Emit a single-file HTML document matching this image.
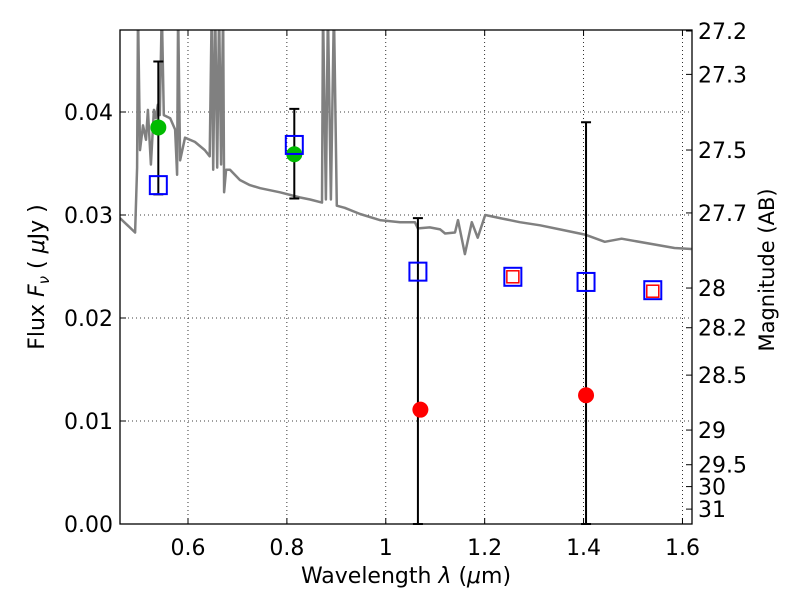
<!DOCTYPE html>
<html><head><meta charset="utf-8"><style>
body{margin:0;background:#fff}
svg{font-family:"DejaVu Sans","Liberation Sans",sans-serif}
</style></head><body>
<svg id="chart" width="800" height="600" xmlns="http://www.w3.org/2000/svg">
<defs><clipPath id="clip"><rect x="120" y="30" width="572" height="494"/></clipPath></defs>
<g id="grid"></g>
<g id="spec" clip-path="url(#clip)"></g>
<g id="marks"></g>
<rect x="120" y="30" width="572" height="494" fill="none" stroke="#000" stroke-width="1.3"/>
<g id="axes"></g>
<text x="406" y="583" font-size="22" text-anchor="middle">Wavelength  <tspan font-style="italic">λ</tspan> (<tspan font-style="italic">μ</tspan>m)</text>
<text transform="translate(44,277) rotate(-90)" font-size="22" text-anchor="middle">Flux  <tspan font-style="italic">F</tspan><tspan font-style="italic" font-size="15" dy="5">ν</tspan><tspan dy="-5">  (  </tspan><tspan font-style="italic">μ</tspan>Jy )</text>
<text transform="translate(774,270) rotate(-90)" font-size="21" text-anchor="middle">Magnitude (AB)</text>
</svg>
<script>
const xTicks=[0.6,0.8,1.0,1.2,1.4,1.6];
const xTickLabels=["0.6","0.8","1","1.2","1.4","1.6"];
const yTicks=[0,0.01,0.02,0.03,0.04];
const yTickLabels=["0.00","0.01","0.02","0.03","0.04"];
const magTicks=[27.2,27.3,27.5,27.7,28,28.2,28.5,29,29.5,30,31];
const magLabels=["27.2","27.3","27.5","27.7","28","28.2","28.5","29","29.5","30","31"];
const specWave=[0.4625,0.493,0.497,0.499,0.503,0.509,0.515,0.519,0.525,0.531,0.535,0.539,0.543,0.547,0.551,0.564,0.574,0.578,0.580,0.584,0.594,0.614,0.634,0.644,0.648,0.651,0.655,0.659,0.663,0.667,0.671,0.673,0.677,0.685,0.705,0.725,0.746,0.786,0.827,0.847,0.871,0.873,0.879,0.883,0.889,0.895,0.901,0.917,0.948,0.988,1.029,1.059,1.065,1.089,1.110,1.120,1.140,1.146,1.160,1.174,1.186,1.201,1.231,1.271,1.312,1.352,1.403,1.443,1.477,1.584,1.618];
const specFlux=[0.0297,0.0283,0.0346,0.05,0.0363,0.0387,0.0373,0.0402,0.0349,0.0402,0.0394,0.0407,0.0397,0.05,0.0397,0.0394,0.0383,0.0339,0.05,0.0353,0.0375,0.0371,0.0363,0.0357,0.05,0.0344,0.05,0.0346,0.05,0.0349,0.05,0.0322,0.0344,0.0344,0.0334,0.0329,0.0326,0.0322,0.0317,0.0315,0.0312,0.05,0.0315,0.05,0.0315,0.05,0.0309,0.0307,0.0301,0.0295,0.0293,0.0293,0.0287,0.0288,0.0286,0.0282,0.0283,0.0295,0.0262,0.0293,0.0278,0.0300,0.0297,0.0293,0.0290,0.0286,0.0281,0.0274,0.0277,0.0268,0.0267];
const greenX=[0.54,0.815];
const greenY=[0.0385,0.0359];
const errX=[0.54,0.815,1.065,1.405];
const errLo=[0.0320,0.0316,0.0,0.0];
const errHi=[0.0449,0.0403,0.0297,0.0390];
const blueX=[0.54,0.815,1.065,1.257,1.405,1.54];
const blueY=[0.0329,0.0368,0.0245,0.0240,0.0235,0.0227];
const redSqX=[1.257,1.54];
const redSqY=[0.0240,0.0226];
const redX=[1.07,1.405];
const redY=[0.0111,0.0125];

const X0=120,X1=692,Y0=524,Y1=30,xmin=0.4625,xmax=1.6193,ymin=0,ymax=0.04796;
const sx=v=>X0+(v-xmin)/(xmax-xmin)*(X1-X0);
const sy=v=>Y0-(v-ymin)/(ymax-ymin)*(Y0-Y1);
const NS="http://www.w3.org/2000/svg";
function mk(tag,attrs,parent){const e=document.createElementNS(NS,tag);for(const k in attrs)e.setAttribute(k,attrs[k]);document.getElementById(parent).appendChild(e);return e;}
xTicks.forEach((t,i)=>{const x=sx(t);
 let g=mk('line',{x1:x,x2:x,y1:Y1,y2:Y0,stroke:'#000','stroke-width':0.8,'stroke-dasharray':'1,3'},'grid');
 
 
 let a=mk('line',{x1:x,x2:x,y1:Y0,y2:Y0-6,stroke:'#000'},'axes');
 let b=mk('line',{x1:x,x2:x,y1:Y1,y2:Y1+6,stroke:'#000'},'axes');
 let l=mk('text',{x:x,y:555,'font-size':22,'text-anchor':'middle'},'axes');l.textContent=xTickLabels[i];
 
 });
yTicks.forEach((t,i)=>{const y=sy(t);
 if(t>0){let g=mk('line',{x1:X0,x2:X1,y1:y,y2:y,stroke:'#000','stroke-width':0.8,'stroke-dasharray':'1,3'},'grid');
 
 }
 let a=mk('line',{x1:X0,x2:X0+6,y1:y,y2:y,stroke:'#000'},'axes');
 let l=mk('text',{x:113,y:y+8,'font-size':22,'text-anchor':'end'},'axes');l.textContent=yTickLabels[i];
 
 });
magTicks.forEach((m,i)=>{const f=Math.pow(10,(23.9-m)/2.5);const y=sy(f);
 let a=mk('line',{x1:X1-6,x2:X1,y1:y,y2:y,stroke:'#000'},'axes');
 let l=mk('text',{x:698,y:y+8,'font-size':22},'axes');l.textContent=magLabels[i];
 
 });
let d=specWave.map((w,i)=>(i?'L':'M')+sx(w).toFixed(1)+','+sy(specFlux[i]).toFixed(1)).join(' ');
let sp=mk('path',{d:d,fill:'none',stroke:'#808080','stroke-width':2.5,'stroke-linejoin':'round'},'spec');


errX.forEach((x,i)=>{const px=sx(x),a=sy(errLo[i]),b=sy(errHi[i]);
 let e=mk('path',{d:`M${px},${a}L${px},${b}M${px-5},${a}L${px+5},${a}M${px-5},${b}L${px+5},${b}`,stroke:'#000','stroke-width':2,fill:'none'},'marks');
 
 });
greenX.forEach((x,i)=>{let c=mk('circle',{cx:sx(x),cy:sy(greenY[i]),r:8,fill:'#00bb00'},'marks');
 
 });
blueX.forEach((x,i)=>{let r=mk('rect',{x:sx(x)-8.5,y:sy(blueY[i])-9,width:17,height:18,fill:'none',stroke:'#0000ff','stroke-width':2},'marks');
 
 });
redSqX.forEach((x,i)=>{let r=mk('rect',{x:sx(x)-6,y:sy(redSqY[i])-6,width:12,height:12,fill:'none',stroke:'#ff0000','stroke-width':1.5},'marks');
 
 });
redX.forEach((x,i)=>{let c=mk('circle',{cx:sx(x),cy:sy(redY[i]),r:8,fill:'#ff0000'},'marks');
 
 });
</script>
</body></html>
